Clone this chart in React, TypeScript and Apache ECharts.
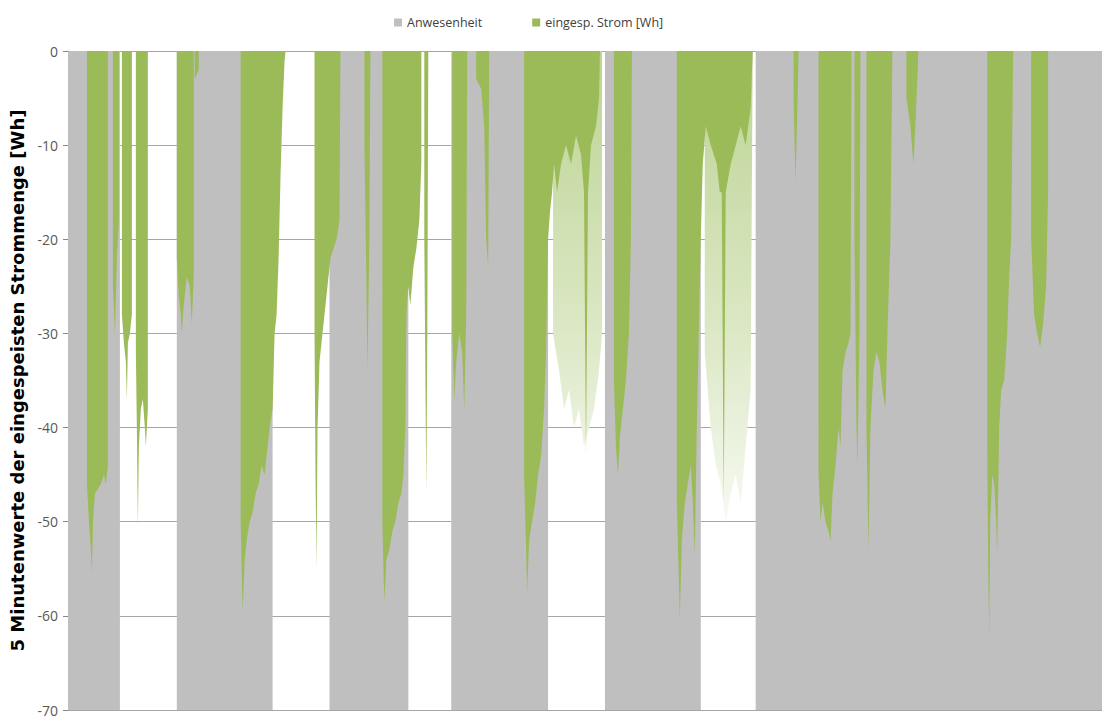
import React, { useEffect, useRef } from "react";
import * as echarts from "echarts";

// x = 5-minute slot index, y = Wh (negative = feed-in)
const X_MAX = 1036;
const Y_MIN = -70;
const Y_MAX = 0;
const Y_STEP = 10;

const SERIES_PRESENCE = "Anwesenheit";
const SERIES_POWER = "eingesp. Strom [Wh]";
const Y_AXIS_NAME = "5 Minutenwerte der eingespeisten Strommenge [Wh]";

// presence intervals [start, end]
const presence: [number, number][] = [
  [0, 52],
  [109, 205],
  [262, 341],
  [384, 481],
  [538, 634],
  [689, 1036],
];

// fed-in energy [slot, Wh]
const power: [number, number][] = [
  [19, 0], [19, -46], [21, -50], [23, -53], [24, -55.5], [25, -50], [27, -47], [30, -46.5], [33, -46], [36, -45], [38, -46], [40, -44], [40, 0],
  [45, 0], [45, -25], [47, -30], [49, -22], [51, -18], [51, 0],
  [54, 0], [54, -28], [56, -31], [58, -33], [59, -37], [60, -31], [62, -30], [64, -28], [64, 0],
  [68, 0], [68, -32], [69, -40], [70, -50.5], [71, -42], [73, -38], [75, -37], [77, -40], [78, -42], [80, -38], [80, 0],
  [109, 0], [109, -22], [111, -26], [113, -28], [114, -30], [116, -27], [119, -24], [122, -25], [124, -29], [126, -24], [126, 0],
  [127, 0], [127, -3], [131, -2], [131, 0],
  [173, 0], [173, -50], [174, -55], [175, -59.5], [177, -54], [179, -52], [182, -50], [185, -49], [188, -47], [191, -46], [194, -44], [197, -45], [200, -42], [202, -40], [205, -38], [207, -30], [209, -28], [211, -22], [213, -13], [215, -6], [217, -1], [218, 0],
  [247, 0], [247, -30], [248, -45], [249, -55], [250, -40], [252, -33], [254, -31], [257, -28], [260, -25], [263, -22], [266, -21], [269, -20], [272, -18], [273, 0],
  [297, 0], [297, -10], [299, -25], [300, -34], [302, -20], [303, 0],
  [315, 0], [315, -50], [316, -55], [317, -58.5], [319, -54], [322, -53], [325, -51], [328, -50], [331, -48], [334, -47], [336, -45], [338, -40], [339, -28], [341, -25], [343, -27], [346, -23], [349, -21], [352, -18], [354, -12], [354, 0],
  [357, 0], [357, -20], [359, -47], [360, -30], [361, 0],
  [385, 0], [385, -30], [387, -37], [389, -33], [392, -30], [395, -32], [397, -38], [399, -28], [400, 0],
  [409, 0], [409, -3], [414, -4], [417, -8], [419, -20], [421, -23], [422, 0],
  [457, 0], [457, -45], [459, -53], [460, -57.5], [462, -52], [465, -50], [468, -48], [471, -45], [474, -43], [477, -38], [479, -32], [481, -20], [483, -17], [485, -15], [487, -12], [490, -15], [494, -12], [499, -10], [504, -12], [509, -9], [514, -11], [517, -15], [519, -43], [521, -15], [524, -10], [529, -8], [532, -5], [533, 0],
  [547, 0], [547, -35], [549, -42], [551, -45], [553, -41], [556, -38], [559, -35], [562, -30], [564, -20], [565, 0],
  [610, 0], [610, -48], [612, -56], [613, -60.5], [615, -52], [618, -48], [621, -46], [624, -44], [626, -48], [628, -53.5], [630, -40], [632, -30], [634, -20], [636, -12], [639, -8], [644, -10], [650, -12], [653, -15], [655, -15], [657, -48], [659, -15], [664, -12], [669, -10], [674, -8], [679, -10], [684, -6], [686, 0],
  [727, 0], [727, -5], [729, -14], [731, -5], [732, 0],
  [752, 0], [752, -45], [754, -50], [756, -48], [759, -50], [762, -51], [764, -52], [766, -47], [769, -44], [772, -40], [774, -42], [776, -34], [779, -32], [782, -31], [784, -30], [785, 0],
  [788, 0], [788, -20], [790, -40], [791, -44], [793, -30], [794, 0],
  [800, 0], [800, -40], [802, -53], [804, -40], [807, -34], [810, -32], [813, -33], [816, -36], [819, -38], [821, -30], [824, -20], [826, 0],
  [840, 0], [840, -5], [844, -8], [847, -12], [849, -8], [851, -3], [852, 0],
  [921, 0], [921, -42], [922, -55], [923, -62], [924, -50], [926, -45], [928, -46], [930, -50], [931, -53.5], [933, -40], [935, -36], [938, -35], [941, -30], [943, -24], [945, -20], [946, -10], [947, 0],
  [965, 0], [965, -20], [968, -28], [971, -30], [974, -31.5], [977, -29], [980, -25], [982, -15], [982, 0],
];

// faint, thin feed-in spikes (absence days)
const powerFaint: [number, number][] = [
  [486, 0], [486, -30], [492, -34], [497, -38], [502, -36], [507, -40], [512, -38], [517, -42], [522, -40], [527, -38], [532, -34], [535, -30], [535, 0],
  [638, 0], [638, -32], [644, -40], [649, -44], [654, -46], [659, -50], [664, -47], [669, -45], [674, -48], [679, -42], [684, -36], [686, 0],
];

const GRAY = "#BFBFBF";
const GREEN = "#9BBB59";

export default function App() {
  const ref = useRef<HTMLDivElement>(null);
  useEffect(() => {
    if (!ref.current) return;
    const chart = echarts.init(ref.current, undefined, { renderer: "svg" });
    chart.setOption({
      animation: false,
      backgroundColor: "#ffffff",
      textStyle: { fontFamily: "Open Sans" },
      legend: {
        left: 389,
        top: 11,
        data: [SERIES_PRESENCE, SERIES_POWER],
        icon: "rect",
        itemWidth: 8,
        itemHeight: 8,
        itemGap: 50,
        textStyle: { fontSize: 12.5, color: "#404040", fontFamily: "Open Sans" },
      },
      grid: { left: 66, right: 0, top: 51, bottom: 3, containLabel: false },
      xAxis: {
        type: "value",
        min: 0,
        max: X_MAX,
        axisLine: { show: true, onZero: true, lineStyle: { color: "#A6A6A6" } },
        axisTick: { show: false },
        axisLabel: { show: false },
        splitLine: { show: false },
      },
      yAxis: {
        type: "value",
        min: Y_MIN,
        max: Y_MAX,
        interval: Y_STEP,
        name: Y_AXIS_NAME,
        nameLocation: "middle",
        nameGap: 42,
        nameRotate: 90,
        nameTextStyle: { fontSize: 18, fontWeight: "bold", color: "#000000", fontFamily: "DejaVu Sans" },
        axisLine: { show: true, lineStyle: { color: "#868686" } },
        axisTick: { show: true, length: 5, lineStyle: { color: "#868686" } },
        axisLabel: { fontSize: 14, color: "#595959", margin: 10, fontFamily: "Open Sans" },
        splitLine: { show: true, lineStyle: { color: "#A6A6A6", width: 1 } },
      },
      series: [
        {
          name: SERIES_PRESENCE,
          type: "custom",
          z: 1,
          itemStyle: { color: GRAY },
          encode: { x: [0, 1] },
          data: presence,
          renderItem: (_params: any, api: any) => {
            const p0 = api.coord([api.value(0), Y_MAX]);
            const p1 = api.coord([api.value(1), Y_MIN]);
            return {
              type: "rect",
              shape: { x: p0[0], y: p0[1], width: p1[0] - p0[0], height: p1[1] - p0[1] },
              style: { fill: GRAY },
            };
          },
        },
        {
          name: SERIES_POWER,
          type: "line",
          z: 3,
          symbol: "none",
          color: GREEN,
          lineStyle: { width: 0 },
          areaStyle: { color: GREEN, opacity: 1 },
          data: power,
        },
        {
          name: SERIES_POWER,
          type: "line",
          z: 2,
          symbol: "none",
          color: GREEN,
          lineStyle: { width: 0 },
          areaStyle: {
            opacity: 1,
            color: new echarts.graphic.LinearGradient(0, 0, 0, 1, [
              { offset: 0, color: "#BCD392" },
              { offset: 0.6, color: "#DCE8C6" },
              { offset: 1, color: "#F7FAF2" },
            ]),
          },
          data: powerFaint,
        },
      ],
    });
    return () => chart.dispose();
  }, []);
  return <div ref={ref} style={{ position: "fixed", left: 0, top: 0, width: 1102, height: 717 }} />;
}
